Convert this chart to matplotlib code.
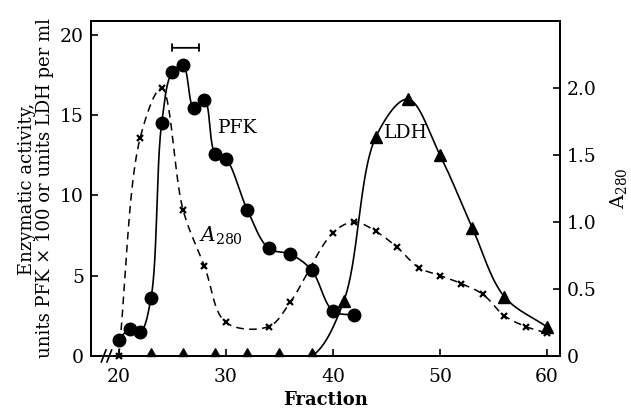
import numpy as np
import matplotlib
matplotlib.use("Agg")
import matplotlib.pyplot as plt
from matplotlib.path import Path

# ---- data ----
pfk_x = [20, 21, 22, 23, 24, 25, 26, 27, 28, 29, 30, 32, 34, 36, 38, 40, 42]
pfk_y = [1.0, 1.7, 1.5, 3.6, 14.5, 17.7, 18.1, 15.45, 15.95, 12.6, 12.3, 9.1, 6.7, 6.35, 5.35, 2.8, 2.55]

ldh_x = [23, 26, 29, 32, 35, 38, 41, 44, 47, 50, 53, 56, 60]
ldh_y = [0, 0, 0, 0, 0, 0, 3.4, 13.65, 16.0, 12.5, 8.0, 3.7, 1.8]

a280_x = [20, 22, 24, 26, 28, 30, 34, 36, 40, 42, 44, 46, 48, 50, 52, 54, 56, 58, 60]
a280_y = [0.0, 1.63, 2.0, 1.09, 0.67, 0.25, 0.22, 0.40, 0.92, 1.0, 0.93, 0.81, 0.66, 0.60, 0.54, 0.46, 0.30, 0.22, 0.17]

pool_x = [25, 27.5]   # pooled fractions bracket
pool_y = 19.2

x_ticks = [20, 30, 40, 50, 60]
left_ticks = [0, 5, 10, 15, 20]
left_labels = ["0", "5", "10", "15", "20"]
right_ticks = [0, 0.5, 1.0, 1.5, 2.0]
right_labels = ["0", "0.5", "1.0", "1.5", "2.0"]


def smooth_through(axis, x, y, n=40, alpha=0.5):
    """Centripetal Catmull-Rom curve through the data points, built in display space."""
    pts = axis.transData.transform(np.column_stack([x, y]).astype(float))
    P = np.vstack([2 * pts[0] - pts[1], pts, 2 * pts[-1] - pts[-2]])
    out = []
    for i in range(1, len(P) - 2):
        p0, p1, p2, p3 = P[i - 1], P[i], P[i + 1], P[i + 2]
        t0 = 0.0
        t1 = t0 + max(np.linalg.norm(p1 - p0), 1e-6) ** alpha
        t2 = t1 + max(np.linalg.norm(p2 - p1), 1e-6) ** alpha
        t3 = t2 + max(np.linalg.norm(p3 - p2), 1e-6) ** alpha
        t = np.linspace(t1, t2, n)[:, None]
        A1 = (t1 - t) / (t1 - t0) * p0 + (t - t0) / (t1 - t0) * p1
        A2 = (t2 - t) / (t2 - t1) * p1 + (t - t1) / (t2 - t1) * p2
        A3 = (t3 - t) / (t3 - t2) * p2 + (t - t2) / (t3 - t2) * p3
        B1 = (t2 - t) / (t2 - t0) * A1 + (t - t0) / (t2 - t0) * A2
        B2 = (t3 - t) / (t3 - t1) * A2 + (t - t1) / (t3 - t1) * A3
        C = (t2 - t) / (t2 - t1) * B1 + (t - t1) / (t2 - t1) * B2
        out.append(C if i == 1 else C[1:])
    curve = np.vstack(out)
    back = axis.transData.inverted().transform(curve)
    return back[:, 0], back[:, 1]


plt.rcParams['font.family'] = ['DejaVu Serif']
plt.rcParams['mathtext.fontset'] = 'dejavuserif'

fig = plt.figure(figsize=(6.31, 4.08), dpi=100)
ax = fig.add_axes([0.1442, 0.1275, 0.8875 - 0.1442, 0.9485 - 0.1275])
ax2 = ax.twinx()

ax.set_xlim(17.4, 61.2)
ax.set_ylim(0, 20.87)
ax2.set_ylim(0, 2.5)

# A280 (dashed, right axis)
sx, sy = smooth_through(ax2, a280_x, a280_y)
ax2.plot(sx, sy, color='black', lw=1.1, ls=(0, (5, 3.5)))
ax2.plot(a280_x, a280_y, ls='none', marker='x', ms=5, mew=1.6, color='black', clip_on=False)

# PFK
sx, sy = smooth_through(ax, pfk_x, pfk_y)
ax.plot(sx, sy, color='black', lw=1.2)
ax.plot(pfk_x, pfk_y, ls='none', marker='o', ms=9, color='black', clip_on=False)

# LDH
sx, sy = smooth_through(ax, ldh_x[4:], ldh_y[4:])
ax.plot(sx, sy, color='black', lw=1.2)
tri_up = Path([(-1, 0), (1, 0), (0, 1.75), (-1, 0)],
              [Path.MOVETO, Path.LINETO, Path.LINETO, Path.CLOSEPOLY])
lx = np.array(ldh_x); ly = np.array(ldh_y)
zero = ly == 0
ax.plot(lx[zero], ly[zero], ls='none', marker=tri_up, ms=11, color='black', clip_on=False)
ax.plot(lx[~zero], ly[~zero], ls='none', marker='^', ms=8.5, color='black', clip_on=False)

# pooled bracket
ax.annotate('', xy=(pool_x[0], pool_y), xytext=(pool_x[1], pool_y),
            arrowprops=dict(arrowstyle='|-|, widthA=0.25, widthB=0.25', lw=1.3, color='black',
                            shrinkA=0, shrinkB=0))

# labels inside
ax.text(31.1, 14.2, 'PFK', fontsize=13.5, ha='center', va='center')
ax.text(46.8, 13.9, 'LDH', fontsize=13.5, ha='center', va='center')
ax.text(29.5, 7.5, r'$\mathit{A}_{280}$', fontsize=14.5, ha='center', va='center')

# ticks
ax.set_xticks(x_ticks)
ax.set_xticklabels([str(v) for v in x_ticks])
ax.set_yticks(left_ticks)
ax.set_yticklabels(left_labels)
ax2.set_yticks(right_ticks)
ax2.set_yticklabels(right_labels)
for a in (ax, ax2):
    a.tick_params(direction='in', length=5, width=1.2, labelsize=13.5, pad=5)
    for s in a.spines.values():
        s.set_linewidth(1.3)
ax.tick_params(axis='x', pad=9)

ax.set_xlabel('Fraction', fontsize=13, fontweight='bold', labelpad=3)
ax.set_ylabel('Enzymatic activity,\nunits PFK × 100 or units LDH per ml', fontsize=13,
              linespacing=1.05, labelpad=4)
ax2.set_ylabel(r'A$_{280}$', fontsize=14, labelpad=8)

# axis break on bottom spine
ax.plot([0.024, 0.042], [0, 0], transform=ax.transAxes, color='white', lw=2.5,
        clip_on=False, zorder=5)
for off in (0.0, 0.012):
    ax.plot([0.022 + off, 0.032 + off], [-0.018, 0.018], transform=ax.transAxes,
            color='black', lw=1.2, clip_on=False, zorder=6)

fig.savefig('out.png', dpi=100)
